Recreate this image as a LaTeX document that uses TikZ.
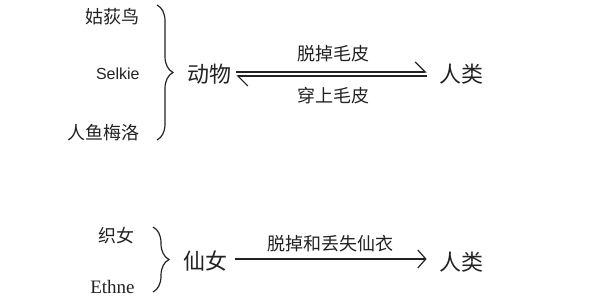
\documentclass[tikz,border=0pt]{standalone}
\usepackage{fontspec}
\setmainfont{Liberation Serif}
\setsansfont{Liberation Sans}
\newfontfamily\cjk{Noto Sans CJK SC}
\usepackage{xcolor}
\definecolor{cInk}{HTML}{222222}
\usepackage{tikz}
\usetikzlibrary{positioning,arrows.meta,decorations.pathreplacing}
\tikzset{
  node-item/.style={anchor=east,inner sep=0pt,text=cInk,font=\cjk\fontsize{9}{9}\selectfont},
  node-group/.style={inner sep=0pt,text=cInk,font=\cjk\fontsize{11}{11}\selectfont},
  node-label/.style={inner sep=0pt,text=cInk,font=\cjk\fontsize{9}{9}\selectfont},
  brace-line/.style={draw=cInk,line width=0.6pt,
    decorate,decoration={brace,amplitude=8pt}},
  % 上下两条半箭头（可逆），下方为单向
  arrow-half/.style={-{Straight Barb[left,length=5pt,width=10pt]},line width=0.6pt,draw=cInk},
  arrow/.style={-{Straight Barb[length=4pt,width=9pt]},line width=0.6pt,draw=cInk},
}

\begin{document}
\begin{tikzpicture}[x=0.5pt,y=-0.5pt]
  \useasboundingbox (0,0) rectangle (600,298);
  % 上：动物 <-> 人类
  \node[node-item] (guhuo) at (140,17) {姑荻鸟};
  \node[node-item,font=\sffamily\fontsize{8}{8}\selectfont] (selkie) at (140,74) {Selkie};
  \node[node-item] (meiluo) at (140,133) {人鱼梅洛};
  \coordinate (brA1) at (157,5);
  \coordinate (brA2) at (157,140);
  \draw[brace-line] (brA1) -- (brA2);
  \node[node-group] (animal) at (209,74) {动物};
  \node[node-group] (human1) at (461,74) {人类};
  \draw[arrow-half] ([shift={(5,-2)}]animal.east) -- ([shift={(-12,-2)}]human1.west);
  \draw[arrow-half] ([shift={(-12,2)}]human1.west) -- ([shift={(5,2)}]animal.east);
  \node[node-label] (shed) at (333,54) {脱掉毛皮};
  \node[node-label] (wear) at (333,96) {穿上毛皮};
  % 下：仙女 -> 人类
  \node[node-item] (zhinv) at (135,236) {织女};
  \node[node-item,font=\fontsize{9.5}{9.5}\selectfont] (ethne) at (135,287) {Ethne};
  \coordinate (brB1) at (153,227);
  \coordinate (brB2) at (153,292);
  \draw[brace-line] (brB1) -- (brB2);
  \node[node-group] (fairy) at (205,261) {仙女};
  \node[node-group] (human2) at (461,262) {人类};
  \draw[arrow] ([shift={(8,-2)}]fairy.east) -- ([shift={(-12,-3)}]human2.west);
  \node[node-label] (lose) at (330,244) {脱掉和丢失仙衣};
\end{tikzpicture}
\end{document}
